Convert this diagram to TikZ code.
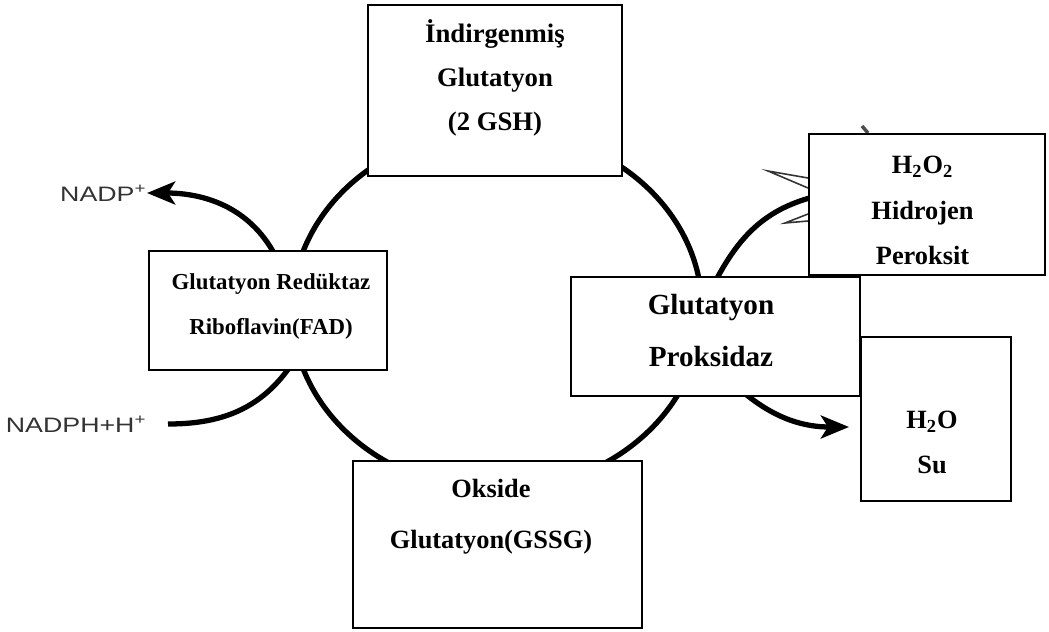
\documentclass[tikz,border=0pt]{standalone}
\usepackage{fontspec}
\setmainfont{Liberation Serif}
\newfontfamily\nadfont{Liberation Sans}
\usetikzlibrary{arrows.meta,backgrounds}

\begin{document}
\begin{tikzpicture}[
box/.style={draw=black, fill=white, line width=1.1pt, inner sep=0pt},
boxtext/.style={align=center, inner sep=0pt, anchor=north, font=\fontsize{15}{25.5}\selectfont\bfseries},
cofactor/.style={inner sep=0pt, anchor=east, text=black!80, font=\fontsize{11.9}{14}\selectfont\nadfont},
cycleline/.style={line width=3pt, black},
flow/.style={line width=3pt, black, -{Stealth[length=16pt, width=13pt, inset=4pt]}},
]
\useasboundingbox (0,0) rectangle (20.98,-12.64);

\node[box, minimum width=5.08cm, minimum height=3.42cm] at(9.90,-1.81) (gsh) {};
\node[box, minimum width=4.76cm, minimum height=2.38cm] at(5.36,-6.21) (red) {};
\node[box, minimum width=5.78cm, minimum height=3.34cm] at(9.95,-10.89) (gssg) {};
\node[box, minimum width=5.78cm, minimum height=2.38cm] at(14.31,-6.73) (gpx) {};
\node[box, minimum width=4.72cm, minimum height=2.82cm] at(18.54,-4.09) (hoo) {};
\node[box, minimum width=3.00cm, minimum height=3.28cm] at(18.72,-8.38) (su) {};

\node[boxtext, font=\fontsize{15.2}{25.2}\selectfont\bfseries] at(9.90,-0.38) (gshtext) {İndirgenmiş\\Glutatyon\\(2 GSH)};
\node[boxtext, font=\fontsize{13}{25.5}\selectfont\bfseries] at(5.42,-5.46) (redtext) {Glutatyon Redüktaz\\Riboflavin(FAD)};
\node[boxtext, font=\fontsize{15}{28.9}\selectfont\bfseries] at(9.82,-9.58) (gssgtext) {Okside\\Glutatyon(GSSG)};
\node[boxtext, font=\fontsize{16.6}{29.5}\selectfont\bfseries] at(14.22,-5.88) (gpxtext) {Glutatyon\\Proksidaz};
\node[boxtext, font=\fontsize{15}{25.8}\selectfont\bfseries] at(18.45,-3.12) (hootext) {H\textsubscript{2}O\textsubscript{2}\\Hidrojen\\Peroksit};
\node[boxtext] at(18.64,-8.21) (sutext) {H\textsubscript{2}O\\Su};

\node[cofactor] at(2.94,-3.86) (nadp) {\scalebox{1.28}[1]{NADP\textsuperscript{+}}};
\node[cofactor] at(2.94,-8.48) (nadph) {\scalebox{1.28}[1]{NADPH+H\textsuperscript{+}}};

\begin{pgfonlayer}{background}
\draw[cycleline] (9.94,-6.20) ellipse [x radius=4.10, y radius=3.60];
\draw[flow] ([xshift=0.14cm, yshift=-0.1cm]red.north) to[out=118, in=0] (nadp.east);
\draw[cycleline] ([xshift=0.42cm]nadph.east) to[out=0, in=235] ([xshift=0.45cm, yshift=0.1cm]red.south);
\draw[cycleline] ([yshift=-0.1cm]gpx.north) to[out=62, in=195] ([xshift=0.1cm, yshift=0.15cm]hoo.west);
\draw[flow] ([xshift=0.55cm, yshift=0.1cm]gpx.south) to[out=-40, in=180] ([xshift=-0.22cm, yshift=-0.16cm]su.west);
\draw[line width=0.9pt, black!80] (16.16,-3.56) -- (15.36,-3.42) -- (16.16,-3.76);
\draw[line width=0.9pt, black!80] (16.16,-4.28) -- (15.70,-4.46) -- (16.16,-4.42);
\draw[line width=2pt, black!70] (17.24,-2.52) -- (17.36,-2.66);
\end{pgfonlayer}

\end{tikzpicture}
\end{document}
